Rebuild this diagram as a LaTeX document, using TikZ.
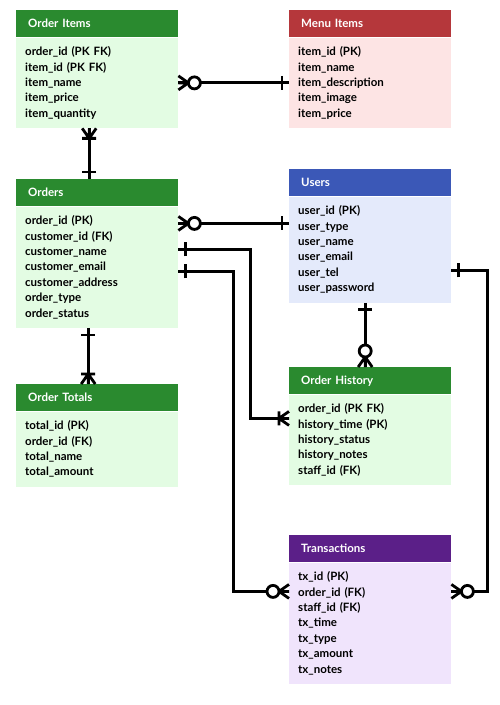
\documentclass[tikz,border=0pt]{standalone}
\usepackage{fontspec}
\setmainfont{Lato}
\usetikzlibrary{positioning}
\definecolor{greenhead}{HTML}{2A8A2F}
\definecolor{greenbody}{HTML}{E3FCE3}
\definecolor{redhead}{HTML}{B5373B}
\definecolor{redbody}{HTML}{FDE4E4}
\definecolor{bluehead}{HTML}{3B58B7}
\definecolor{bluebody}{HTML}{E4EAFB}
\definecolor{purplehead}{HTML}{5B1F88}
\definecolor{purplebody}{HTML}{F0E4FC}
\tikzset{head/.style={rectangle,anchor=north west,minimum width=162pt,minimum height=27pt,inner xsep=12pt,text width=138pt,align=left,text=white,font=\fontsize{11.5}{14}\selectfont\bfseries},
		body/.style={rectangle,below=0pt of #1,minimum width=162pt,inner xsep=9pt,inner ysep=9pt,text width=144pt,align=left,font=\fontsize{11.5}{15.4}\selectfont\bfseries},
		rel/.style={line width=2.8pt,black},
		one/.pic={\draw[rel] (7,-7) -- (7,7);},
		onemany/.pic={\draw[rel] (0,7) -- (10,0) -- (0,-7) (0,0) -- (10,0) (10,-7) -- (10,7);},
		zeromany/.pic={\draw[rel] (0,7) -- (10,0) -- (0,-7) (0,0) -- (10,0); \draw[rel,fill=white] (16,0) circle (6);}}

\begin{document}
\begin{tikzpicture}[x=1pt,y=1pt]
	\useasboundingbox (0,0) rectangle (500,-705);
	% tables
	\node[head,fill=greenhead] (items-head) at (16,-10) {Order Items};
	\node[body=items-head,fill=greenbody] (items) {order\_id (PK FK)\\item\_id (PK FK)\\item\_name\\item\_price\\item\_quantity};
	\node[head,fill=redhead] (menu-head) at (289,-10) {Menu Items};
	\node[body=menu-head,fill=redbody] (menu) {item\_id (PK)\\item\_name\\item\_description\\item\_image\\item\_price};
	\node[head,fill=greenhead] (orders-head) at (16,-179) {Orders};
	\node[body=orders-head,fill=greenbody] (orders) {order\_id (PK)\\customer\_id (FK)\\customer\_name\\customer\_email\\customer\_address\\order\_type\\order\_status};
	\node[head,fill=bluehead] (users-head) at (289,-169) {Users};
	\node[body=users-head,fill=bluebody] (users) {user\_id (PK)\\user\_type\\user\_name\\user\_email\\user\_tel\\user\_password};
	\node[head,fill=greenhead] (totals-head) at (16,-384) {Order Totals};
	\node[body=totals-head,fill=greenbody] (totals) {total\_id (PK)\\order\_id (FK)\\total\_name\\total\_amount};
	\node[head,fill=greenhead] (hist-head) at (289,-367) {Order History};
	\node[body=hist-head,fill=greenbody] (hist) {order\_id (PK FK)\\history\_time (PK)\\history\_status\\history\_notes\\staff\_id (FK)};
	\node[head,fill=purplehead] (tx-head) at (289,-535) {Transactions};
	\node[body=tx-head,fill=purplebody] (tx) {tx\_id (PK)\\order\_id (FK)\\staff\_id (FK)\\tx\_time\\tx\_type\\tx\_amount\\tx\_notes};
	
	% connector ends
	\coordinate (o-users) at ([yshift=-17pt]orders.north east);
	\coordinate (o-hist) at ([yshift=-43pt]orders.north east);
	\coordinate (o-tx) at ([yshift=-65pt]orders.north east);
	\coordinate (u-tx) at ([yshift=-74pt]users.north east);
	\coordinate (hist-in) at ([yshift=-24pt]hist.north west);
	\coordinate (tx-in) at ([yshift=-29pt]tx.north west);
	\coordinate (tx-out) at ([yshift=-29pt]tx.north east);
	
	% relations
	\draw[rel] (items.east) -- (items.east -| menu.west);
	\draw[rel] ([xshift=-8pt]items.south) -- ([xshift=-8pt]orders-head.north);
	\draw[rel] (o-users) -- (o-users -| users.west);
	\draw[rel] (o-hist) -- ++(72,0) |- (hist-in);
	\draw[rel] (o-tx) -- ++(55,0) |- (tx-in);
	\draw[rel] (u-tx) -- ++(36,0) |- (tx-out);
	\draw[rel] ([xshift=-5pt]users.south) -- ([xshift=-5pt]hist-head.north);
	\draw[rel] ([xshift=-9pt]orders.south) -- ([xshift=-9pt]totals-head.north);
	
	\pic at (items.east) {zeromany};
	\pic[rotate=180] at (items.east -| menu.west) {one};
	\pic[rotate=-90] at ([xshift=-8pt]items.south) {onemany};
	\pic[rotate=90] at ([xshift=-8pt]orders-head.north) {one};
	\pic at (o-users) {zeromany};
	\pic[rotate=180] at (o-users -| users.west) {one};
	\pic at (o-hist) {one};
	\pic[rotate=180] at (hist-in) {onemany};
	\pic at (o-tx) {one};
	\pic[rotate=180] at (tx-in) {zeromany};
	\pic at (u-tx) {one};
	\pic at (tx-out) {zeromany};
	\pic[rotate=-90] at ([xshift=-5pt]users.south) {one};
	\pic[rotate=90] at ([xshift=-5pt]hist-head.north) {zeromany};
	\pic[rotate=-90] at ([xshift=-9pt]orders.south) {one};
	\pic[rotate=90] at ([xshift=-9pt]totals-head.north) {onemany};
\end{tikzpicture}
\end{document}
